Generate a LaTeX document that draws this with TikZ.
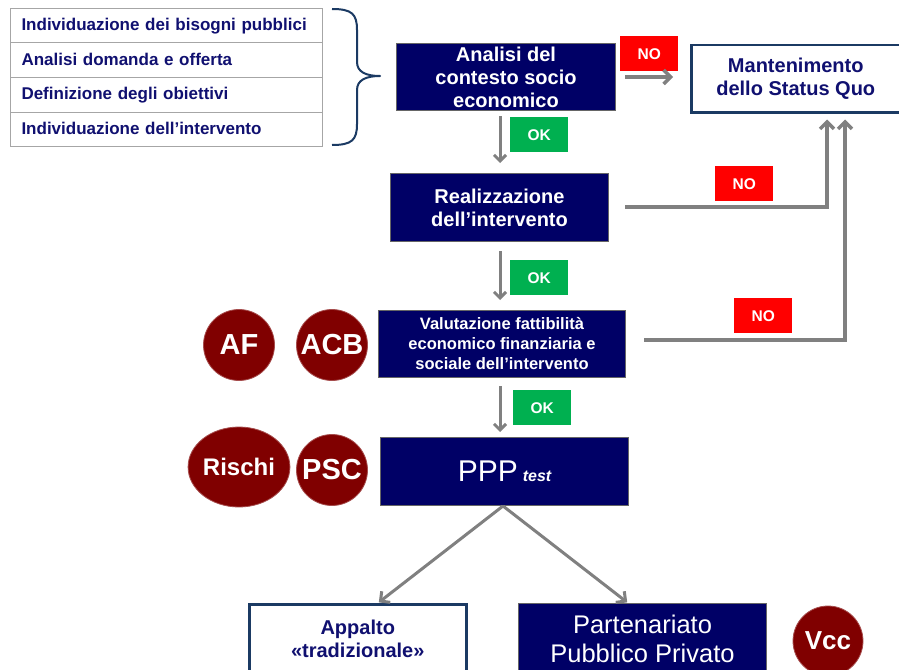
\documentclass[tikz,border=0pt]{standalone}
\usepackage{fontspec}
\setmainfont{Liberation Sans}
\usetikzlibrary{arrows.meta,shapes.geometric}
\definecolor{navyfill}{HTML}{000066}
\definecolor{navytext}{HTML}{101070}
\definecolor{framenavy}{HTML}{1B3A63}
\definecolor{nored}{HTML}{FF0000}
\definecolor{okgreen}{HTML}{00B050}
\definecolor{arrgray}{HTML}{808080}
\definecolor{maroon}{HTML}{800000}
\definecolor{listgray}{HTML}{A6A6A6}
\tikzset{
  navybox/.style={draw=black!60, line width=1pt, fill=navyfill, text=white,
    font=\bfseries, align=center, anchor=north west, inner sep=0pt},
  whitebox/.style={draw=framenavy, line width=2.5pt, fill=white, text=navytext,
    font=\bfseries, align=center, anchor=north west, inner sep=0pt},
  listrow/.style={draw=listgray, line width=1pt, fill=white, text=navytext,
    anchor=north west, minimum width=312pt, minimum height=34.5pt,
    text width=290pt, text height=12.5pt, text depth=2.5pt, align=left, inner sep=0pt,
    font=\fontsize{17}{19}\selectfont\bfseries},
  notag/.style={fill=nored, text=white, minimum width=58pt, minimum height=35pt,
    inner sep=0pt, anchor=north west, font=\fontsize{15.5}{17}\selectfont\bfseries},
  oktag/.style={fill=okgreen, text=white, minimum width=58pt, minimum height=35pt,
    inner sep=0pt, anchor=north west, font=\fontsize{15.5}{17}\selectfont\bfseries},
  disc/.style={circle, fill=maroon, draw=maroon!70!white, line width=0.8pt,
    text=white, inner sep=0pt, minimum size=71pt,
    font=\fontsize{29}{30}\selectfont\bfseries},
  arr/.style={draw=arrgray, line width=3.5pt, -{Straight Barb[length=7pt,width=14pt]}},
  downarr/.style={draw=arrgray, line width=3pt, -{Straight Barb[length=6pt,width=12pt]}},
  bigtext/.style={font=\fontsize{20}{23}\selectfont\bfseries}
}
\begin{document}
\begin{tikzpicture}[x=1pt,y=-1pt]
\clip (0,0) rectangle (899,669);
\fill[white] (0,0) rectangle (899,669);

% list of preliminary activities
\node[listrow] (l1) at (10,8)    {Individuazione dei bisogni pubblici};
\node[listrow] (l2) at (10,42.5) {Analisi domanda e offerta};
\node[listrow] (l3) at (10,77)   {Definizione degli obiettivi};
\node[listrow] (l4) at (10,111.5){Individuazione dell’intervento};

% curly brace
\coordinate (brtop) at (332,9);
\coordinate (brtip) at (380,76);
\coordinate (brbot) at (332,145);
\draw[framenavy, line width=2pt, line join=round]
  (brtop) .. controls (352,9) and (357,14) .. (357,30) -- (357,62)
  .. controls (357,72) and (366,76) .. (brtip)
  .. controls (366,76) and (357,80) .. (357,90) -- (357,124)
  .. controls (357,140) and (352,145) .. (brbot);

% main flow
\node[navybox, bigtext, minimum width=219pt, minimum height=67pt] (analisi) at (396,43)
  {Analisi del\\contesto socio\\economico};
\node[whitebox, bigtext, minimum width=209pt, minimum height=67pt] (mant) at (690,44)
  {Mantenimento\\dello Status Quo};
\node[navybox, bigtext, minimum width=218pt, minimum height=68pt] (real) at (390,173)
  {Realizzazione\\dell’intervento};
\node[navybox, minimum width=247pt, minimum height=67pt,
  font=\fontsize{16.5}{20}\selectfont\bfseries] (valut) at (378,310)
  {Valutazione fattibilità\\economico finanziaria e\\sociale dell’intervento};
\node[navybox, minimum width=248pt, minimum height=68pt, font=\normalfont] (ppp) at (380,437)
  {\fontsize{30}{32}\selectfont PPP\,{\fontsize{16}{18}\selectfont\bfseries\itshape test}};
\node[whitebox, bigtext, minimum width=217pt, minimum height=70pt] (appalto) at (248,603)
  {Appalto\\«tradizionale»};
\node[navybox, minimum width=248pt, minimum height=71pt,
  font=\fontsize{25.5}{29}\selectfont] (partner) at (518,603)
  {Partenariato\\Pubblico Privato};

% tags
\node[notag] (no1) at (620,36)  {NO};
\node[oktag] (ok1) at (510,117) {OK};
\node[notag] (no2) at (715,166) {NO};
\node[oktag] (ok2) at (510,260) {OK};
\node[notag] (no3) at (734,298) {NO};
\node[oktag] (ok3) at (513,390) {OK};

% analysis tools
\node[disc] (af)  at (239,345) {AF};
\node[disc] (acb) at (332,345) {ACB};
\node[disc, ellipse, minimum width=89pt, minimum height=80pt,
  font=\fontsize{24}{25}\selectfont\bfseries] (rischi) at (239,467) {Rischi};
\node[disc] (psc) at (332,470) {PSC};
\node[disc, minimum size=70pt, font=\fontsize{26}{28}\selectfont\bfseries] (vcc) at (828,641) {Vcc};

% connectors
\draw[arr, shorten <=9pt, shorten >=17pt] (analisi.east |- 0,77) -- (mant.west |- 0,77);
\draw[downarr, shorten <=5pt, shorten >=10pt] (analisi.south -| 500,0) -- (real.north -| 500,0);
\draw[downarr, shorten <=9pt, shorten >=10pt] (real.south -| 500,0) -- (valut.north -| 500,0);
\draw[downarr, shorten <=8pt, shorten >=5pt] (valut.south -| 500,0) -- (ppp.north -| 500,0);
\draw[arr, shorten <=16pt, shorten >=6pt, line join=miter] (real.east |- 0,207) -- (827,207) -- (mant.south -| 827,0);
\draw[arr, shorten <=18pt, shorten >=6pt, line join=miter] (valut.east |- 0,340) -- (845,340) -- (mant.south -| 845,0);
\draw[arr, line width=3pt, shorten >=1pt] (ppp.south -| 503,0) -- (appalto.north -| 378,0);
\draw[arr, line width=3pt, shorten >=1pt] (ppp.south -| 503,0) -- (partner.north -| 628,0);
\end{tikzpicture}
\end{document}
